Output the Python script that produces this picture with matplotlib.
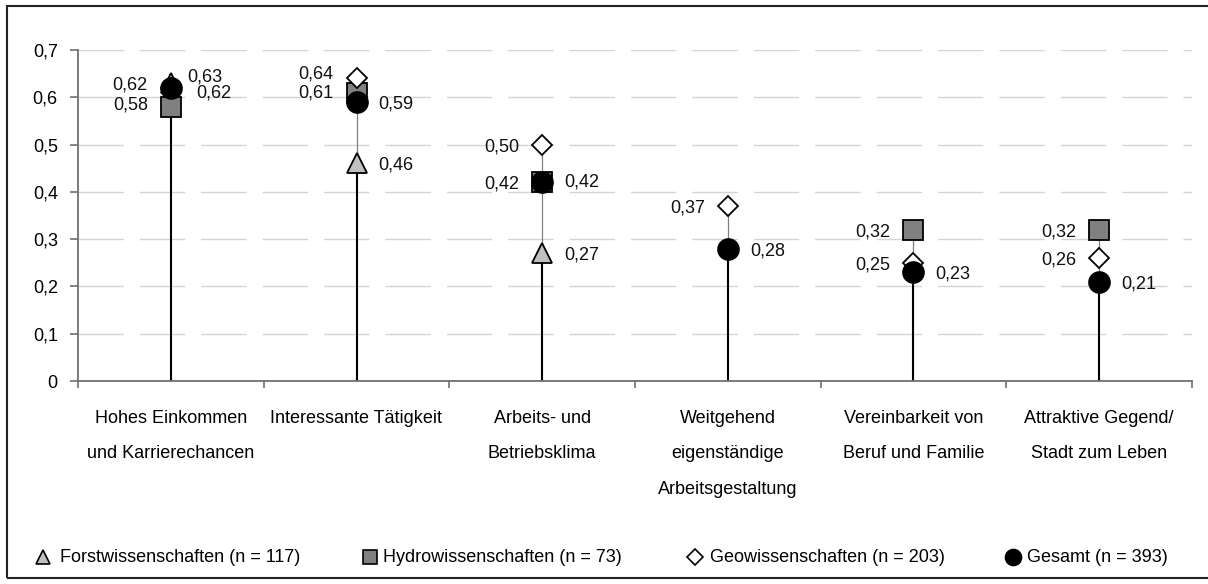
import numpy as np
import matplotlib
matplotlib.use("Agg")
import matplotlib.pyplot as plt
from matplotlib.lines import Line2D
from matplotlib.patches import Rectangle

# ---------------- data ----------------
categories = [
    "Hohes Einkommen\nund Karrierechancen",
    "Interessante Tätigkeit",
    "Arbeits- und\nBetriebsklima",
    "Weitgehend\neigenständige\nArbeitsgestaltung",
    "Vereinbarkeit von\nBeruf und Familie",
    "Attraktive Gegend/\nStadt zum Leben",
]
series_names = [
    "Forstwissenschaften (n = 117)",
    "Hydrowissenschaften (n = 73)",
    "Geowissenschaften (n = 203)",
    "Gesamt (n = 393)",
]
forst = [0.63, 0.46, 0.27, np.nan, np.nan, np.nan]
hydro = [0.58, 0.61, 0.42, np.nan, 0.32, 0.32]
geo = [0.62, 0.64, 0.50, 0.37, 0.25, 0.26]
gesamt = [0.62, 0.59, 0.42, 0.28, 0.23, 0.21]
y_ticks = [0, 0.1, 0.2, 0.3, 0.4, 0.5, 0.6, 0.7]

# ---------------- style ----------------
plt.rcParams["font.family"] = ["Liberation Sans", "DejaVu Sans"]
FS = 13
PX = 0.72  # points per pixel at dpi 100

W, H = 1208, 584
fig = plt.figure(figsize=(W / 100, H / 100), dpi=100)
ax = fig.add_axes([78 / W, 1 - 381 / H, (1192 - 78) / W, (381 - 50) / H])

x = np.arange(1, len(categories) + 1)
all_series = [forst, hydro, geo, gesamt]
styles = [
    dict(marker="^", mfc="#C0C0C0", ms=14.5, lms=9.5),
    dict(marker="s", mfc="#808080", ms=13.7, lms=9.5),
    dict(marker="D", mfc="white", ms=10.5, lms=8.5),
    dict(marker="o", mfc="black", ms=15, lms=11.5),
]
label_side = ["right", "left", "left", "right"]

# drop lines (black, axis to lowest point) and high-low lines (grey)
arr = np.array(all_series, dtype=float)
for i, xi in enumerate(x):
    col = arr[:, i]
    lo = np.nanmin(col)
    hi = np.nanmax(col)
    ax.plot([xi, xi], [0, lo], color="black", lw=1.5, zorder=2, solid_capstyle="butt")
    ax.plot([xi, xi], [lo, hi], color="#808080", lw=0.9, zorder=2)

for k, (vals, st) in enumerate(zip(all_series, styles)):
    ax.plot(x, vals, linestyle="none", marker=st["marker"], markersize=st["ms"],
            markerfacecolor=st["mfc"], markeredgecolor="black", markeredgewidth=1.3,
            zorder=3 + k)

# data labels (manual nudges in pixels for crowded labels: (dx, dy up))
nudge = {(0, 0): (-6, 8), (3, 0): (3, -3), (2, 0): (0, 5), (1, 0): (0, 4),
         (2, 1): (0, 6), (1, 1): (0, 2), (3, 2): (0, 2.5)}
for k, vals in enumerate(all_series):
    for i, v in enumerate(vals):
        if np.isnan(v):
            continue
        dx, dy = nudge.get((k, i), (0, 0))
        if label_side[k] == "right":
            off = (22 + dx) * PX
            ha = "left"
        else:
            off = -(23 - dx) * PX
            ha = "right"
        ax.annotate(f"{v:.2f}".replace(".", ","), (x[i], v),
                    xytext=(off, (dy - 6.5) * PX), textcoords="offset points",
                    ha=ha, va="baseline", fontsize=FS, color="#111111", zorder=10)

# axes styling
ax.set_xlim(0.5, len(categories) + 0.5)
ax.set_ylim(0, 0.7)
ax.set_yticks(y_ticks)
ax.set_yticklabels(["0"] + [f"{t:.1f}".replace(".", ",") for t in y_ticks[1:]], fontsize=FS)
ax.yaxis.grid(True, color="#D4D4D4", lw=1.0, linestyle=(0, (32.7, 11.5)))
ax.set_axisbelow(True)
ax.set_xticks(np.arange(0.5, len(categories) + 1, 1))
ax.set_xticklabels([])
ax.set_xticks(x, minor=True)
ax.set_xticklabels(categories, minor=True, fontsize=FS, linespacing=2.4, va="top")
ax.tick_params(axis="x", which="minor", length=0, pad=21)
ax.tick_params(axis="x", which="major", length=5, width=1.2, color="#707070", direction="out")
ax.tick_params(axis="y", length=5.5, width=1.2, color="#707070", direction="out", pad=9)
for s in ["top", "right"]:
    ax.spines[s].set_visible(False)
for s in ["left", "bottom"]:
    ax.spines[s].set_color("#707070")
    ax.spines[s].set_linewidth(1.3)

# legend (manual placement)
leg_marker_x = [43, 370, 695, 1013]
leg_text_x = [60, 383, 710, 1027]
leg_y = 1 - 557 / H
for name, st, mx, tx in zip(series_names, styles, leg_marker_x, leg_text_x):
    fig.add_artist(Line2D([mx / W], [leg_y], transform=fig.transFigure, linestyle="none",
                          marker=st["marker"], markersize=st["lms"],
                          markerfacecolor=st["mfc"], markeredgecolor="black",
                          markeredgewidth=1.2))
    fig.text(tx / W, leg_y, name, fontsize=FS, va="center", ha="left")

# outer border
fig.add_artist(Rectangle((7 / W, 6 / H), (1212 - 7) / W, (578 - 6) / H,
                         transform=fig.transFigure, fill=False, edgecolor="#222222", lw=1.5))

fig.savefig("out.png", dpi=100)
